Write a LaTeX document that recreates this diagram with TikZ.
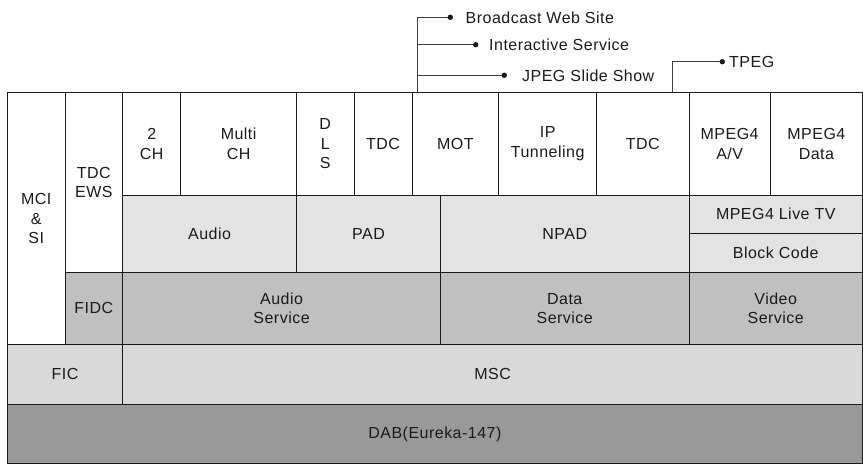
\documentclass[tikz,border=0pt]{standalone}
\usepackage{fontspec}
\setmainfont{Liberation Sans}[LetterSpace=3]
\usepackage{tikz}
\usetikzlibrary{positioning}

\definecolor{layerlite}{HTML}{E3E3E3}
\definecolor{layerfic}{HTML}{D9D9D9}
\definecolor{layermid}{HTML}{C0C0C0}
\definecolor{layerdark}{HTML}{999999}
\definecolor{inkgray}{HTML}{1A1A1A}

\begin{document}
\begin{tikzpicture}[
                x = 1pt, y = -1pt,
                box/.style = {
                    draw = inkgray,
                    line width = 0.8pt,
                    rectangle,
                    anchor = north west,
                    align = center,
                    inner sep = 0pt,
                    outer sep = 0pt,
                    text = inkgray,
                    font = \fontsize{16}{19.5}\selectfont,
                    fill = #1
                },
                box/.default = white,
                dot/.style = {
                    circle,
                    fill = inkgray,
                    minimum size = 5.4pt,
                    inner sep = 0pt,
                    outer sep = 0pt
                },
                tag/.style = {
                    inner sep = 0pt,
                    text = inkgray,
                    font = \fontsize{16}{19.5}\selectfont
                },
                wire/.style = {draw = inkgray!85, line width = 0.8pt}
            ]
            \useasboundingbox (0,0) rectangle (863,464);

            % side columns
            \node[box, minimum width=57.7pt, minimum height=251.6pt] (mci) at (7.3,92.7) {MCI\\\&\\SI};
            \node[box, minimum width=57.7pt, minimum height=179.8pt] (tdcews) at (65,92.7) {TDC\\EWS};

            % applications
            \node[box, minimum width=58pt, minimum height=102.3pt] (twoch) at (122.7,92.7) {2\\CH};
            \node[box, minimum width=115.8pt, minimum height=102.3pt] (multich) at (180.7,92.7) {Multi\\CH};
            \node[box, minimum width=57.5pt, minimum height=102.3pt] (dls) at (296.5,92.7) {D\\L\\S};
            \node[box, minimum width=58pt, minimum height=102.3pt] (tdca) at (354,92.7) {TDC};
            \node[box, minimum width=86.7pt, minimum height=102.3pt] (mot) at (412,92.7) {MOT};
            \node[box, minimum width=98pt, minimum height=102.3pt] (ip) at (498.7,92.7) {IP\\Tunneling};
            \node[box, minimum width=92.3pt, minimum height=102.3pt] (tdcb) at (596.7,92.7) {TDC};
            \node[box, minimum width=81.3pt, minimum height=102.3pt] (mpav) at (689,92.7) {MPEG4\\A/V};
            \node[box, minimum width=92.2pt, minimum height=102.3pt] (mpdata) at (770.3,92.7) {MPEG4\\Data};

            % audio / data carriage
            \node[box=layerlite, minimum width=173.8pt, minimum height=77.5pt] (audio) at (122.7,195) {Audio};
            \node[box=layerlite, minimum width=144pt, minimum height=77.5pt] (pad) at (296.5,195) {PAD};
            \node[box=layerlite, minimum width=248.5pt, minimum height=77.5pt] (npad) at (440.5,195) {NPAD};
            \node[box=layerlite, minimum width=173.5pt, minimum height=38.3pt] (livetv) at (689,195) {MPEG4 Live TV};
            \node[box=layerlite, minimum width=173.5pt, minimum height=39.2pt] (block) at (689,233.3) {Block Code};

            % services
            \node[box=layermid, minimum width=57.7pt, minimum height=71.8pt] (fidc) at (65,272.5) {FIDC};
            \node[box=layermid, minimum width=317.8pt, minimum height=71.8pt] (audiosvc) at (122.7,272.5) {Audio\\Service};
            \node[box=layermid, minimum width=248.5pt, minimum height=71.8pt] (datasvc) at (440.5,272.5) {Data\\Service};
            \node[box=layermid, minimum width=173.5pt, minimum height=71.8pt] (videosvc) at (689,272.5) {Video\\Service};

            % channels and transport
            \node[box=layerfic, minimum width=115.4pt, minimum height=60pt] (fic) at (7.3,344.3) {FIC};
            \node[box=layerfic, minimum width=739.8pt, minimum height=60pt] (msc) at (122.7,344.3) {MSC};
            \node[box=layerdark, minimum width=855.2pt, minimum height=59.2pt] (dab) at (7.3,404.3) {DAB(Eureka-147)};

            % MOT user applications
            \coordinate (motbus) at (417.7,92.7);
            \node[dot] (bws) at (450.3,17.3) {};
            \node[dot] (iserv) at (475.7,44.7) {};
            \node[dot] (slides) at (504.3,75.3) {};
            \node[tag, right=12.5pt of bws] (bwstxt) {Broadcast Web Site};
            \node[tag, right=10.6pt of iserv] (iservtxt) {Interactive Service};
            \node[tag, right=15pt of slides] (slidestxt) {JPEG Slide Show};

            \draw[wire] (motbus) |- (bws);
            \draw[wire] (motbus |- iserv) -- (iserv);
            \draw[wire] (motbus |- slides) -- (slides);

            % TDC user application
            \coordinate (tdcbus) at (672,92.7);
            \node[dot] (tpeg) at (722.3,61.7) {};
            \node[tag, right=4pt of tpeg] (tpegtxt) {TPEG};
            \draw[wire] (tdcbus) |- (tpeg);

\end{tikzpicture}
\end{document}
